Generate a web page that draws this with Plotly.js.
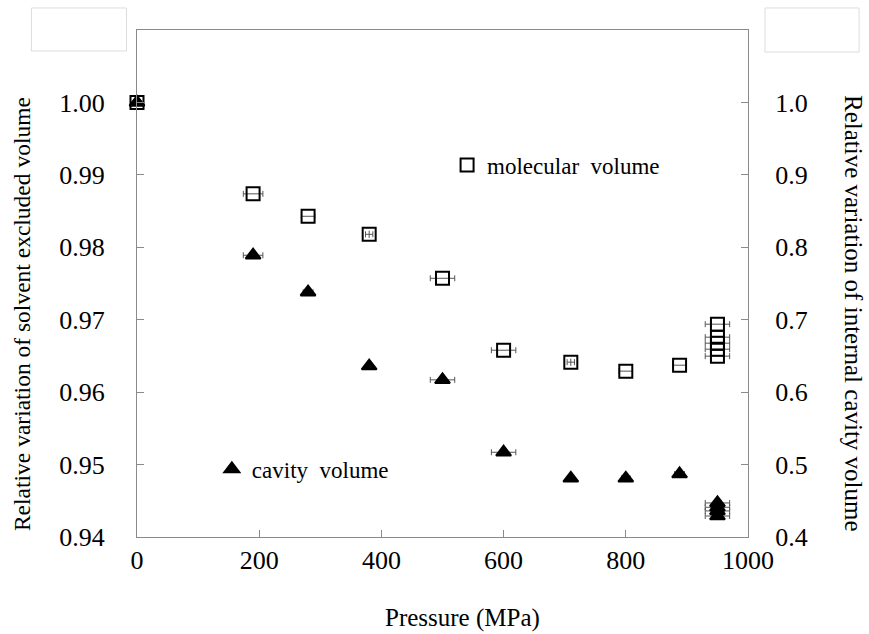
<!DOCTYPE html>
<html>
<head>
<meta charset="utf-8">
<script src="https://cdn.plot.ly/plotly-3.0.1.min.js"></script>
<style>
  html, body { margin: 0; padding: 0; background: #fff; }
  #chart { width: 869px; height: 634px; }
</style>
</head>
<body>
<div id="chart"></div>
<script>
// Molecular (solvent excluded) volume vs pressure — left axis
const pressureMol = [0, 190, 280, 380, 500, 600, 710, 800, 888, 950, 950, 950, 950, 950];
const molVolume   = [1.0000, 0.98738, 0.98428, 0.98179, 0.97572, 0.96579, 0.96414, 0.96290, 0.96372,
                     0.96938, 0.96759, 0.96676, 0.96593, 0.96497];
const molErrP     = [0, 16, 11, 6, 20, 20, 6, 11, 11, 20, 20, 20, 20, 20];
const molErrV     = [0, 0, 0, 0.0005, 0, 0, 0.0005, 0, 0, 0, 0, 0, 0, 0];

// Internal cavity volume vs pressure — right axis
const pressureCav = [0, 190, 280, 380, 500, 600, 710, 800, 888, 950, 950, 950, 950];
const cavVolume   = [1.000, 0.789, 0.738, 0.636, 0.617, 0.517, 0.481, 0.481, 0.487,
                     0.447, 0.441, 0.436, 0.429];
const cavErrP     = [0, 16, 8, 0, 20, 20, 0, 7, 8, 20, 20, 20, 20];

// Axis ticks
const pressureTicks = [0, 200, 400, 600, 800, 1000];
const leftTicks  = [0.94, 0.95, 0.96, 0.97, 0.98, 0.99, 1.00];
const rightTicks = [0.4, 0.5, 0.6, 0.7, 0.8, 0.9, 1.0];

const FONT = "'Liberation Serif', 'Times New Roman', serif";
const AXIS_GREY = '#8a8a8a';
const ERR_GREY = '#555555';

const traces = [
  {
    x: pressureMol, y: molVolume, yaxis: 'y', type: 'scatter', mode: 'markers',
    name: 'molecular\u00a0\u00a0volume', legend: 'legend',
    marker: { symbol: 'square-open', size: 13, color: '#000', line: { width: 2, color: '#000' } },
    error_x: { type: 'data', array: molErrP, visible: true, color: ERR_GREY, thickness: 1, width: 3 },
    error_y: { type: 'data', array: molErrV, visible: true, color: ERR_GREY, thickness: 1, width: 0 },
    cliponaxis: false
  },
  {
    x: pressureCav, y: cavVolume, yaxis: 'y2', type: 'scatter', mode: 'markers',
    name: 'cavity\u00a0\u00a0volume', legend: 'legend2',
    marker: { symbol: 'triangle-up', size: 13, color: '#000', line: { width: 2, color: '#000' } },
    error_x: { type: 'data', array: cavErrP, visible: true, color: ERR_GREY, thickness: 1, width: 3 },
    cliponaxis: false
  }
];

const tickFont = { family: FONT, size: 26, color: '#000' };
const leftTitleFont = { family: FONT, size: 23.5, color: '#000' };
const titleFont = { family: FONT, size: 25, color: '#000' };
const legendFont = { family: FONT, size: 23, color: '#000' };

const layout = {
  width: 869, height: 634,
  paper_bgcolor: '#fff', plot_bgcolor: '#fff',
  margin: { l: 137, r: 121, t: 30, b: 97 },
  showlegend: true,
  xaxis: {
    range: [0, 1000], tickvals: pressureTicks, ticks: 'inside', ticklen: 7,
    tickcolor: AXIS_GREY, showline: true, linecolor: AXIS_GREY, linewidth: 1,
    mirror: true, showgrid: false, zeroline: false, tickfont: tickFont
  },
  yaxis: {
    range: [0.94, 1.01], tickvals: leftTicks, tickformat: '.2f', ticks: 'inside', ticklen: 7,
    tickcolor: AXIS_GREY, showline: true, linecolor: AXIS_GREY, linewidth: 1,
    showgrid: false, zeroline: false, tickfont: tickFont, ticklabelstandoff: 26
  },
  yaxis2: {
    range: [0.4, 1.1], tickvals: rightTicks, tickformat: '.1f', ticks: 'inside', ticklen: 7,
    overlaying: 'y', side: 'right',
    tickcolor: AXIS_GREY, showline: true, linecolor: AXIS_GREY, linewidth: 1,
    showgrid: false, zeroline: false, tickfont: tickFont, ticklabelstandoff: 21
  },
  legend: {
    x: 0.5075, y: 0.7337, xanchor: 'left', yanchor: 'middle',
    bgcolor: 'rgba(0,0,0,0)', borderwidth: 0, font: legendFont
  },
  legend2: {
    x: 0.1225, y: 0.134, xanchor: 'left', yanchor: 'middle',
    bgcolor: 'rgba(0,0,0,0)', borderwidth: 0, font: legendFont
  },
  annotations: [
    {
      text: 'Relative\u00a0variation\u00a0of\u00a0solvent\u00a0excluded\u00a0volume',
      xref: 'paper', yref: 'paper', x: -0.188, y: 0.44, textangle: -90,
      xanchor: 'center', yanchor: 'middle', showarrow: false, font: leftTitleFont
    },
    {
      text: 'Relative\u00a0variation\u00a0of\u00a0internal\u00a0cavity\u00a0volume',
      xref: 'paper', yref: 'paper', x: 1.1718, y: 0.44, textangle: 90,
      xanchor: 'center', yanchor: 'middle', showarrow: false, font: titleFont
    },
    {
      text: 'Pressure (MPa)',
      xref: 'paper', yref: 'paper', x: 0.5335, y: -0.16,
      xanchor: 'center', yanchor: 'middle', showarrow: false, font: titleFont
    }
  ],
  shapes: [
    { type: 'rect', xref: 'paper', yref: 'paper', x0: -0.1728, x1: -0.0172, y0: 0.9586, y1: 1.0434,
      line: { color: '#dcdcdc', width: 1 }, fillcolor: '#fff' },
    { type: 'rect', xref: 'paper', yref: 'paper', x0: 1.0278, x1: 1.1818, y0: 0.9566, y1: 1.0434,
      line: { color: '#dcdcdc', width: 1 }, fillcolor: '#fff' }
  ]
};

Plotly.newPlot('chart', traces, layout, { displayModeBar: false, staticPlot: true });
</script>
</body>
</html>
